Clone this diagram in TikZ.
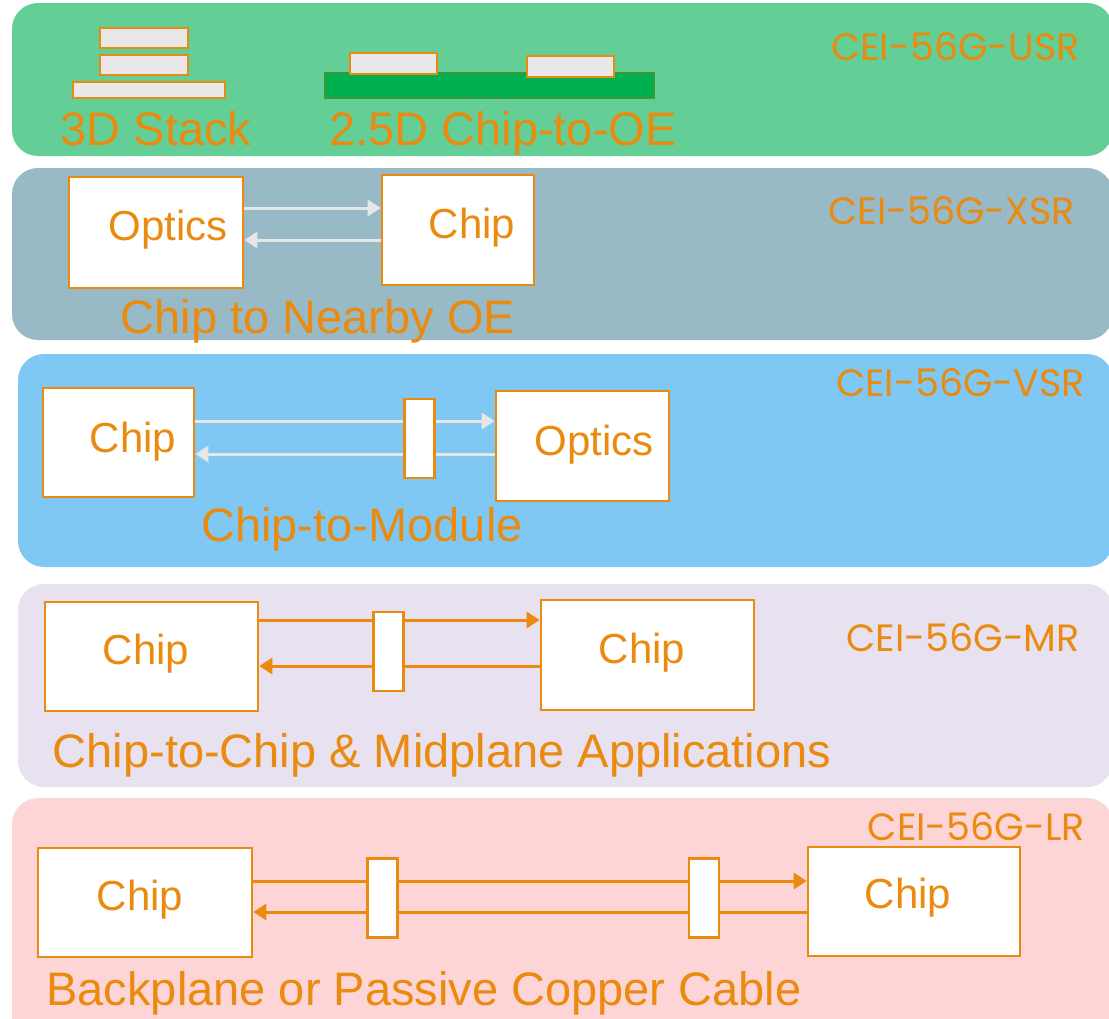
\documentclass[tikz,border=0pt]{standalone}
\usepackage{fontspec}
\setmainfont{Liberation Sans}
\newfontfamily\ceifont{Poppins}
\usepackage{tikz}
\usetikzlibrary{arrows.meta,positioning}
\definecolor{orng}{HTML}{EA8A0E}
\definecolor{usrband}{HTML}{63CF96}
\definecolor{xsrband}{HTML}{98BAC6}
\definecolor{vsrband}{HTML}{80C8F4}
\definecolor{mrband}{HTML}{E8E1F0}
\definecolor{lrband}{HTML}{FDD5D6}
\definecolor{die}{HTML}{E8E8E8}
\definecolor{subst}{HTML}{00B050}
\definecolor{substedge}{HTML}{3A9A3A}
\definecolor{optline}{HTML}{E6E6E6}
\tikzset{
  band/.style={rounded corners=26pt},
  chipbox/.style={rectangle, draw=orng, fill=white, line width=2.6pt, inner sep=0pt},
  diebox/.style={rectangle, draw=orng, fill=die, line width=2pt, inner sep=0pt},
  conn/.style={rectangle, draw=orng, fill=white, line width=2.2pt, inner sep=0pt, minimum width=30pt, minimum height=79pt},
  boxtxt/.style={font=\fontsize{42}{42}\selectfont, text=orng, anchor=base, inner sep=0pt},
  title/.style={font=\fontsize{47}{47}\selectfont, text=orng, anchor=base, inner sep=0pt},
  cei/.style={font=\ceifont\fontsize{38}{38}\selectfont, text=orng, anchor=base east, inner sep=0pt},
  wire/.style={draw=orng, line width=3pt},
  owire/.style={draw=optline, line width=3pt},
  elink/.style={wire, -{Triangle[length=13pt,width=16pt]}},
  olink/.style={owire, -{Triangle[length=13pt,width=16pt]}}
}
\begin{document}
\begin{tikzpicture}[x=1pt,y=-1pt]
 \useasboundingbox (0,0) rectangle (1109,1018);
 % bands
 \fill[band, usrband] (12,3) rectangle (1113,156);
 \fill[band, xsrband] (12,168) rectangle (1113,340);
 \fill[band, vsrband] (18,354) rectangle (1113,567);
 \fill[band, mrband] (18,584) rectangle (1113,787);
 \fill[band, lrband] (12,798) rectangle (1113,1045);
 % USR
 \node[diebox, minimum width=88pt, minimum height=20pt] (s3) at (144,38) {};
 \node[diebox, minimum width=88pt, minimum height=20pt] (s2) at (144,65) {};
 \node[diebox, minimum width=152pt, minimum height=16pt] (s1) at (149,90) {};
 \node[rectangle, draw=substedge, fill=subst, line width=2pt, minimum width=329pt, minimum height=25pt] (sub) at (489.5,85.5) {};
 \node[diebox, minimum width=87pt, minimum height=21pt] (d1) at (393.5,63.5) {};
 \node[diebox, minimum width=87pt, minimum height=21pt] (d2) at (570.5,66.5) {};
 \node[title] (t1) at (156,145) {3D Stack};
 \node[title] (t2) at (503,145) {2.5D Chip-to-OE};
 \node[cei] (usr) at (1080,60) {CEI-56G-USR};
 % XSR
 \node[chipbox, minimum width=174pt, minimum height=111pt] (xo) at (156,232.5) {};
 \node[chipbox, minimum width=152pt, minimum height=110pt] (xc) at (458,230) {};
 \node[boxtxt] at (168,240) {Optics};
 \node[boxtxt] at (472,238) {Chip};
 \draw[olink] (xo.east |- 0,208) -- (xc.west |- 0,208);
 \draw[olink] (xc.west |- 0,240) -- (xo.east |- 0,240);
 \node[title] (t3) at (318,333) {Chip to Nearby OE};
 \node[cei] (xsr) at (1075,224) {CEI-56G-XSR};
 % VSR
 \node[chipbox, minimum width=151pt, minimum height=109pt] (vc) at (118.5,442.5) {};
 \node[chipbox, minimum width=173pt, minimum height=110pt] (vo) at (582.5,446) {};
 \node[conn] (vk) at (419.5,438.5) {};
 \node[boxtxt] at (133,452) {Chip};
 \node[boxtxt] at (594,455) {Optics};
 \draw[owire] (vc.east |- 0,421) -- (vk.west |- 0,421);
 \draw[olink] (vk.east |- 0,421) -- (vo.west |- 0,421);
 \draw[owire] (vo.west |- 0,454) -- (vk.east |- 0,454);
 \draw[olink] (vk.west |- 0,454) -- (vc.east |- 0,454);
 \node[title] (t4) at (362,541) {Chip-to-Module};
 \node[cei] (vsr) at (1085,396) {CEI-56G-VSR};
 % MR
 \node[chipbox, minimum width=213pt, minimum height=109pt] (mc1) at (151.5,656.5) {};
 \node[chipbox, minimum width=213pt, minimum height=110pt] (mc2) at (647.5,655) {};
 \node[conn] (mk) at (388.5,651.5) {};
 \node[boxtxt] at (146,664) {Chip};
 \node[boxtxt] at (642,663) {Chip};
 \draw[wire] (mc1.east |- 0,620) -- (mk.west |- 0,620);
 \draw[elink] (mk.east |- 0,620) -- (mc2.west |- 0,620);
 \draw[wire] (mc2.west |- 0,666) -- (mk.east |- 0,666);
 \draw[elink] (mk.west |- 0,666) -- (mc1.east |- 0,666);
 \node[title] (t5) at (442,767) {Chip-to-Chip \& Midplane Applications};
 \node[cei] (mr) at (1080,651) {CEI-56G-MR};
 % LR
 \node[chipbox, minimum width=214pt, minimum height=109pt] (lc1) at (145,902.5) {};
 \node[chipbox, minimum width=212pt, minimum height=109pt] (lc2) at (914,901.5) {};
 \node[conn] (lk1) at (382.5,898) {};
 \node[conn] (lk2) at (704,898) {};
 \node[boxtxt] at (140,910) {Chip};
 \node[boxtxt] at (908,908) {Chip};
 \draw[wire] (lc1.east |- 0,881) -- (lk1.west |- 0,881);
 \draw[wire] (lk1.east |- 0,881) -- (lk2.west |- 0,881);
 \draw[elink] (lk2.east |- 0,881) -- (lc2.west |- 0,881);
 \draw[wire] (lc2.west |- 0,912) -- (lk2.east |- 0,912);
 \draw[wire] (lk2.west |- 0,912) -- (lk1.east |- 0,912);
 \draw[elink] (lk1.west |- 0,912) -- (lc1.east |- 0,912);
 \node[title] (t6) at (424,1005) {Backplane or Passive Copper Cable};
 \node[cei] (lr) at (1085,840) {CEI-56G-LR};
\end{tikzpicture}
\end{document}
